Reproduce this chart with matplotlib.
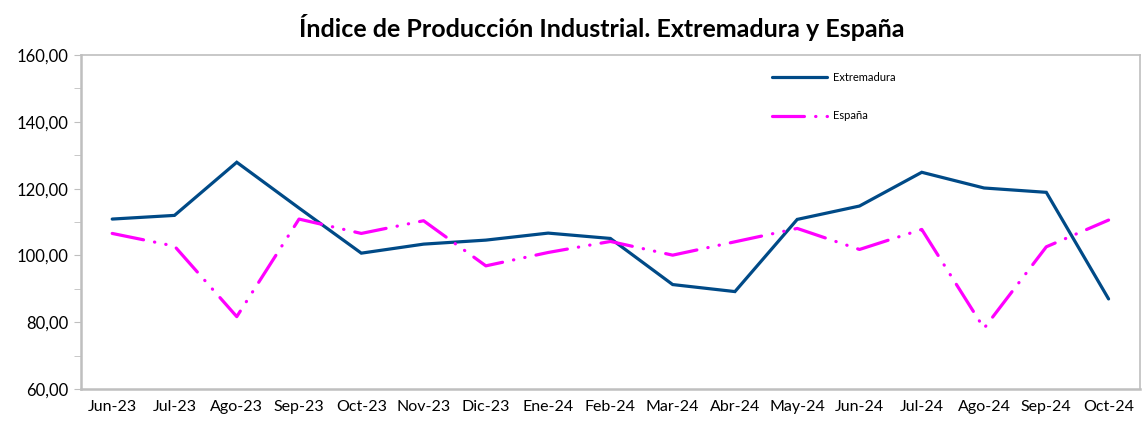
import matplotlib.pyplot as plt
from matplotlib.ticker import MultipleLocator, FuncFormatter

# Datos
meses = ['Jun-23', 'Jul-23', 'Ago-23', 'Sep-23', 'Oct-23', 'Nov-23', 'Dic-23', 'Ene-24', 'Feb-24',
         'Mar-24', 'Abr-24', 'May-24', 'Jun-24', 'Jul-24', 'Ago-24', 'Sep-24', 'Oct-24']
extremadura = [110.9, 112.0, 127.9, 114.2, 100.7, 103.4, 104.6, 106.7, 105.1,
               91.3, 89.2, 110.8, 114.8, 124.9, 120.2, 118.9, 87.0]
espana = [106.6, 102.8, 81.7, 110.9, 106.6, 110.4, 96.9, 100.9, 104.2,
          100.1, 104.1, 108.1, 101.8, 107.8, 78.2, 102.6, 110.6]

plt.rcParams['font.family'] = ['Lato', 'DejaVu Sans']

fig = plt.figure(figsize=(11.42, 4.23), dpi=100)
ax = fig.add_axes([0.071, 0.080, 0.927, 0.790])

x = range(len(meses))
ax.plot(x, extremadura, color='#004a87', lw=2.3, solid_capstyle='round',
        solid_joinstyle='miter', label='Extremadura')
ax.plot(x, espana, color='#ff00ff', lw=2.3, dash_capstyle='round',
        dashes=(10, 3.5, 0.1, 3.5, 0.1, 3.5), label='España')

ax.set_xlim(-0.5, len(meses) - 0.5)
ax.set_ylim(60, 160)
ax.set_xticks(list(x))
ax.set_xticklabels(meses, fontsize=11.5)
ax.yaxis.set_major_locator(MultipleLocator(20))
ax.yaxis.set_minor_locator(MultipleLocator(10))
ax.yaxis.set_major_formatter(FuncFormatter(lambda v, p: f'{v:.2f}'.replace('.', ',')))
ax.tick_params(axis='y', which='both', direction='out', length=5, color='#bfbfbf',
               labelsize=12, pad=4)
ax.tick_params(axis='x', length=0, pad=8)

for s in ax.spines.values():
    s.set_color('#bfbfbf')
    s.set_linewidth(1.2)
ax.spines['left'].set_linewidth(1.8)
ax.spines['bottom'].set_linewidth(1.8)

ax.set_title('Índice de Producción Industrial. Extremadura y España',
             fontsize=18, fontweight='bold', pad=13, x=0.4915)

leg = ax.legend(loc='upper left', bbox_to_anchor=(0.643, 0.98), frameon=False,
                fontsize=8, handlelength=5.0, labelspacing=2.5, handletextpad=0.5)

fig.savefig('out.png', dpi=100)
